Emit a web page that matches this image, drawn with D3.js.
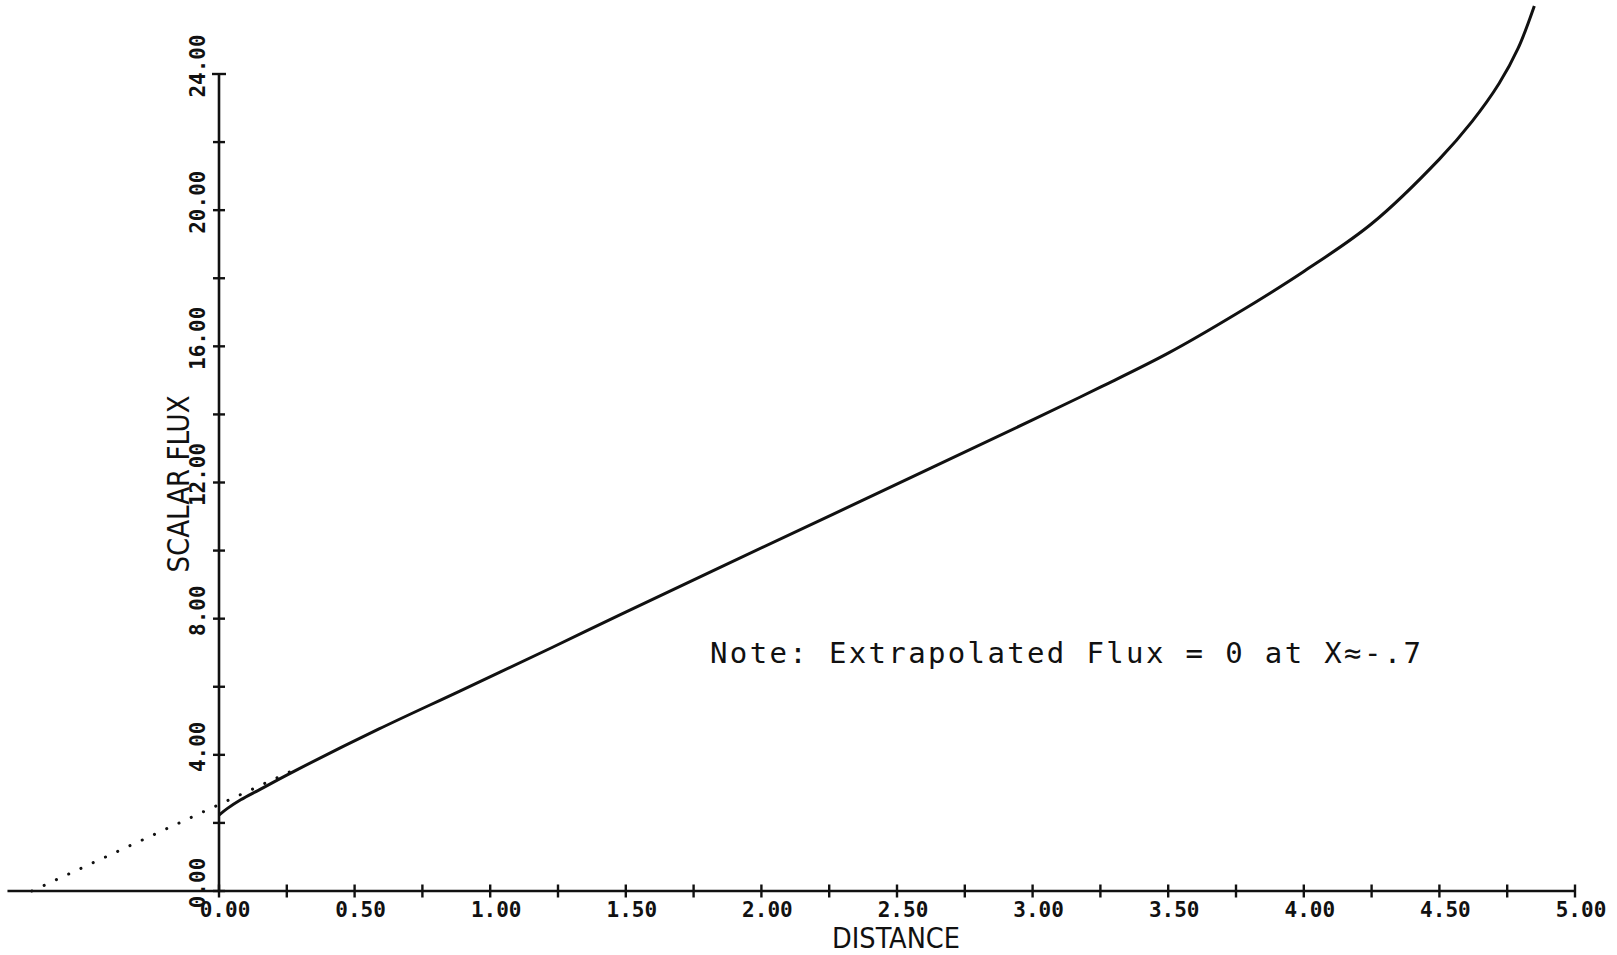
<!DOCTYPE html>
<html>

<head>
    <meta charset="utf-8">
    <title>Scalar Flux vs Distance</title>
    <script src="https://d3js.org/d3.v7.min.js"></script>
    <style>
        body { margin: 0; background: #fff; }
        svg { display: block; }
        .tick-label { font-family: "DejaVu Sans Mono", monospace; font-weight: bold; font-size: 21px; fill: #111; }
        .axis-title { font-family: "DejaVu Sans Condensed", "Liberation Sans Narrow", "DejaVu Sans", sans-serif; font-size: 28px; fill: #111; }
        .ytitle { font-size: 30px; }
        .note { font-family: "DejaVu Sans Mono", monospace; font-size: 29px; fill: #111; }
    </style>
</head>

<body>
    <div id="chart"></div>

    <script>
        // Curve (distance, scalar flux)
        var distance = [0, 0.03, 0.08, 0.15, 0.28, 0.59, 0.89, 1.23, 1.48, 1.84, 2.39, 3.00, 3.25, 3.50, 3.75, 4.00, 4.25, 4.50, 4.62, 4.72, 4.79, 4.85];
        var flux = [2.23, 2.42, 2.68, 2.98, 3.53, 4.76, 5.88, 7.16, 8.12, 9.48, 11.54, 13.84, 14.80, 15.80, 16.95, 18.20, 19.60, 21.50, 22.60, 23.72, 24.75, 26.0];

        // Dotted extrapolation line (flux = 0 near x = -.7)
        var extrapDistance = [-0.69, 0.28];
        var extrapFlux = [0, 3.57];

        // Tick values and which ones get a label
        var xTicks = d3.range(0, 5.001, 0.25);
        var xLabels = [0, 0.5, 1, 1.5, 2, 2.5, 3, 3.5, 4, 4.5, 5];
        var yTicks = d3.range(0, 24.001, 2);
        var yLabels = [0, 4, 8, 12, 16, 20, 24];
        var xAxisStart = -0.78; // the baseline runs on past the y axis

        var W = 1617, H = 955;
        var svg = d3.select("#chart").append("svg")
            .attr("width", W)
            .attr("height", H);

        var x = d3.scaleLinear().domain([0, 5]).range([219, 1575]);
        var y = d3.scaleLinear().domain([0, 24]).range([891, 74]);

        // X axis baseline
        svg.append("line")
            .attr("x1", x(xAxisStart)).attr("x2", x(5))
            .attr("y1", y(0)).attr("y2", y(0))
            .attr("stroke", "#111").attr("stroke-width", 2.6);

        // X ticks cross the line
        svg.selectAll(".xtick").data(xTicks).enter().append("line")
            .attr("class", "xtick")
            .attr("x1", d => x(d)).attr("x2", d => x(d))
            .attr("y1", y(0) - 6.5).attr("y2", y(0) + 6.5)
            .attr("stroke", "#111").attr("stroke-width", 2.4);

        svg.selectAll(".xlab").data(xLabels).enter().append("text")
            .attr("class", "tick-label")
            .attr("x", d => x(d) + 6)
            .attr("y", 917)
            .attr("text-anchor", "middle")
            .text(d => d.toFixed(2));

        // Y axis line
        svg.append("line")
            .attr("x1", x(0)).attr("x2", x(0))
            .attr("y1", y(0)).attr("y2", y(24))
            .attr("stroke", "#111").attr("stroke-width", 2.6);

        svg.selectAll(".ytick").data(yTicks).enter().append("line")
            .attr("class", "ytick")
            .attr("x1", d => x(0) - (d === 24 ? 7 : 6)).attr("x2", d => x(0) + (d === 24 ? 7 : 6))
            .attr("y1", d => y(d)).attr("y2", d => y(d))
            .attr("stroke", "#111").attr("stroke-width", 2.4);

        // Y labels are rotated, reading upward
        svg.selectAll(".ylab").data(yLabels).enter().append("text")
            .attr("class", "tick-label")
            .attr("transform", d => `translate(205,${y(d) - 8}) rotate(-90)`)
            .attr("text-anchor", "middle")
            .text(d => d.toFixed(2));

        // Axis titles
        svg.append("text")
            .attr("class", "axis-title")
            .attr("x", 896).attr("y", 948)
            .attr("text-anchor", "middle")
            .attr("textLength", 128).attr("lengthAdjust", "spacingAndGlyphs")
            .text("DISTANCE");

        svg.append("text")
            .attr("class", "axis-title ytitle")
            .attr("transform", "translate(189,484) rotate(-90)")
            .attr("text-anchor", "middle")
            .attr("textLength", 177).attr("lengthAdjust", "spacingAndGlyphs")
            .text("SCALAR FLUX");

        // Extrapolation, drawn as dots
        var extrap = extrapDistance.map((d, i) => [d, extrapFlux[i]]);
        svg.append("path")
            .datum(extrap)
            .attr("d", d3.line().x(d => x(d[0])).y(d => y(d[1])))
            .attr("fill", "none")
            .attr("stroke", "#111")
            .attr("stroke-width", 3)
            .attr("stroke-linecap", "round")
            .attr("stroke-dasharray", "0.1 13.4");

        // The flux curve
        var pts = distance.map((d, i) => [d, flux[i]]);
        svg.append("path")
            .datum(pts)
            .attr("d", d3.line().x(d => x(d[0])).y(d => y(d[1])).curve(d3.curveCatmullRom.alpha(0.5)))
            .attr("fill", "none")
            .attr("stroke", "#111")
            .attr("stroke-width", 3);

        // Note
        svg.append("text")
            .attr("class", "note")
            .attr("x", 710).attr("y", 663)
            .attr("textLength", 711).attr("lengthAdjust", "spacing")
            .text("Note: Extrapolated Flux = 0 at X\u2248-.7");
    </script>
</body>

</html>
